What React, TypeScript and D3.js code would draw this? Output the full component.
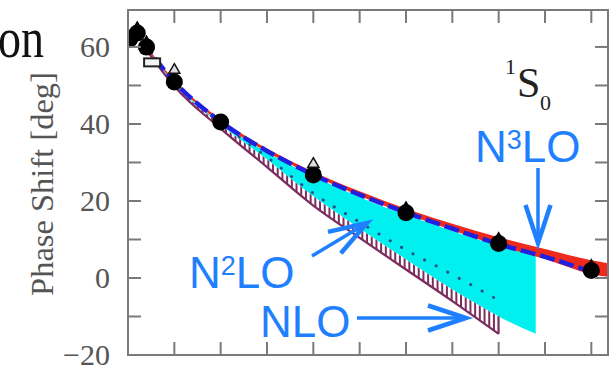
import React from "react";
import * as d3 from "d3";

// ---------- data ----------
const PWA_E = [1, 5, 10, 25, 50, 100, 150, 200, 250];
const PWA_CIRCLES = [62.07, 63.63, 59.96, 50.9, 40.54, 26.78, 16.94, 8.94, 1.96];
const TRI_E = [5, 10, 25, 100, 150, 200, 250];
const TRI_FILLED = [64.3, 60.6, 51.6, 27.4, 17.6, 9.6, 2.6];
const OPEN_TRI_E = [25, 100];
const OPEN_TRI = [54.0, 29.6];
const OPEN_SQ_E = [13];
const OPEN_SQ = [56.0];

const N3LO_E = [1, 5, 10, 25, 50, 75, 100, 125, 150, 175, 200, 225, 250, 259];
const N3LO_LO = [61.8, 63.3, 59.7, 50.8, 40.4, 32.7, 26.6, 21.3, 16.6, 12.4, 8.3, 4.9, 1.0, 0.3];
const N3LO_HI = [62.3, 63.8, 60.3, 51.4, 41.2, 33.6, 27.6, 22.5, 18.0, 14.1, 10.6, 7.5, 4.6, 3.8];

const DASHED_E = [1, 5, 10, 25, 50, 75, 100, 125, 150, 175, 200, 225, 250];
const DASHED = [62.0, 63.5, 60.0, 51.0, 40.6, 33.0, 26.8, 21.6, 17.0, 12.8, 8.8, 5.5, 1.6];

const N2LO_E = [10, 25, 50, 75, 100, 125, 150, 175, 200, 220];
const N2LO_HI = [59.8, 50.8, 40.3, 32.6, 26.4, 21.0, 16.4, 12.2, 8.3, 5.8];
const N2LO_LO = [59.4, 50.3, 39.8, 30.8, 21.2, 12.8, 4.8, -3.0, -10.0, -14.5];

const NLO_E = [10, 25, 50, 75, 100, 125, 150, 175, 200];
const NLO_HI = [59.4, 50.3, 39.8, 30.8, 21.2, 12.8, 4.8, -3.0, -10.0];
const NLO_LO = [59.2, 49.8, 38.8, 28.8, 18.8, 10.4, 2.2, -6.0, -14.5];

const DOTTED_E = [60, 75, 100, 125, 150, 175, 200];
const DOTTED = [36.6, 31.4, 22.0, 14.5, 7.3, 0.9, -5.8];

const Y_TICKS = [-20, -10, 0, 10, 20, 30, 40, 50, 60];
const Y_LABELS = [60, 40, 20, 0, -20];
const X_TICKS = [25, 50, 75, 100, 125, 150, 175, 200, 225, 250];

// ---------- layout ----------
const W = 616, H = 365;
const X0 = 128, X1 = 608, Y0 = 10, Y1 = 355;
const x = d3.scaleLinear().domain([0, 259]).range([X0, X1]);
const y = d3.scaleLinear().domain([-20, 69.6]).range([Y1, Y0]);

const band = (E: number[], lo: number[], hi: number[]) =>
  d3
    .area<number>()
    .x((_, i) => x(E[i]))
    .y0((_, i) => y(lo[i]))
    .y1((_, i) => y(hi[i]))
    .curve(d3.curveMonotoneX)(E) as string;

const line = (E: number[], v: number[]) =>
  d3
    .line<number>()
    .x((_, i) => x(E[i]))
    .y((_, i) => y(v[i]))
    .curve(d3.curveMonotoneX)(E) as string;

const BLUE = "#1f80ff";
const AXIS = "#7a7a7a";
const HATCH = "#7b2d5e";

function Arrow({ x1, y1, x2, y2 }: { x1: number; y1: number; x2: number; y2: number }) {
  const dx = x2 - x1, dy = y2 - y1;
  const len = Math.hypot(dx, dy);
  const ux = dx / len, uy = dy / len;
  const nx = -uy, ny = ux;
  const L = 38, Wd = 12.5;
  const b1 = [x2 - L * ux + Wd * nx, y2 - L * uy + Wd * ny];
  const b2 = [x2 - L * ux - Wd * nx, y2 - L * uy - Wd * ny];
  return (
    <g stroke={BLUE} fill="none">
      <line x1={x1} y1={y1} x2={x2 - 2 * ux} y2={y2 - 2 * uy} strokeWidth={3.5} />
      <path d={`M${b1[0]},${b1[1]} L${x2},${y2} L${b2[0]},${b2[1]}`} strokeWidth={4.5} strokeLinejoin="miter" strokeMiterlimit={10} />
    </g>
  );
}

function tri(cx: number, cy: number, s: number) {
  const h = (s * Math.sqrt(3)) / 2;
  return `M${cx},${cy - (2 * h) / 3} L${cx + s / 2},${cy + h / 3} L${cx - s / 2},${cy + h / 3} Z`;
}

export default function App() {
  const hatchXs = d3.range(x(25), x(200) + 0.1, 4.7);
  return (
    <svg width={W} height={H} style={{ position: "absolute", left: 0, top: 0, background: "#fff" }}
      fontFamily="'Liberation Serif', 'Times New Roman', serif">
      <defs>
        <clipPath id="plot">
          <rect x={X0} y={Y0} width={X1 - X0} height={Y1 - Y0} />
        </clipPath>
        <clipPath id="nloClip">
          <path d={band(NLO_E, NLO_LO, NLO_HI)} />
        </clipPath>
      </defs>

      {/* partial text at top-left */}
      <g transform="translate(44,57) scale(1,1.25)">
        <text x={0} y={0} textAnchor="end" fontSize={46} fill="#111">on</text>
      </g>

      {/* y-axis title */}
      <text transform="translate(53,184) rotate(-90)" textAnchor="middle" fontSize={32.5} fill="#555">
        Phase Shift [deg]
      </text>

      {/* y tick labels */}
      {Y_LABELS.map((v) => (
        <text key={v} x={110} y={y(v) + 10} textAnchor="end" fontSize={30} fill="#555">
          {v < 0 ? `\u2212${Math.abs(v)}` : v}
        </text>
      ))}

      <g clipPath="url(#plot)">
        <path d={band(N2LO_E, N2LO_LO, N2LO_HI)} fill="#00f0f0" />
        <path d={band(NLO_E, NLO_LO, NLO_HI)} fill="#fff" />
        <g clipPath="url(#nloClip)">
          {hatchXs.map((hx, i) => (
            <line key={i} x1={hx} x2={hx} y1={Y0} y2={Y1} stroke={HATCH} strokeWidth={2} />
          ))}
        </g>
        <path d={line(NLO_E, NLO_LO)} fill="none" stroke={HATCH} strokeWidth={2.2} />
        <line x1={x(200)} x2={x(200)} y1={y(NLO_LO[NLO_LO.length - 1])} y2={y(NLO_HI[NLO_HI.length - 1])}
          stroke={HATCH} strokeWidth={2} />
        <path d={line(DOTTED_E, DOTTED)} fill="none" stroke="#2d4f86" strokeWidth={3}
          strokeDasharray="0.1 13" strokeLinecap="round" />
        <path d={band(N3LO_E, N3LO_LO, N3LO_HI)} fill="#ee2a1c" />
        <path d={line(DASHED_E, DASHED)} fill="none" stroke="#2020e0" strokeWidth={4.5}
          strokeDasharray="15 5" />

        {OPEN_SQ_E.map((e, i) => (
          <rect key={"sq" + i} x={x(e) - 8} y={y(OPEN_SQ[i]) - 4} width={16} height={8}
            fill="#f4f4f4" stroke="#222" strokeWidth={2} />
        ))}
        {TRI_E.map((e, i) => (
          <path key={"t" + i} d={tri(x(e), y(TRI_FILLED[i]), 17)} fill="#000" />
        ))}
        {PWA_E.map((e, i) => (
          <circle key={"c" + i} cx={x(e)} cy={y(PWA_CIRCLES[i])} r={8.5} fill="#000" />
        ))}
        {OPEN_TRI_E.map((e, i) => (
          <path key={"ot" + i} d={tri(x(e), y(OPEN_TRI[i]), 11)} fill="#ddd" stroke="#111" strokeWidth={1.5} />
        ))}
      </g>

      <rect x={X0} y={Y0} width={X1 - X0} height={Y1 - Y0} fill="none" stroke={AXIS} strokeWidth={2} />
      {Y_TICKS.map((v) => (
        <g key={"yt" + v} stroke={AXIS} strokeWidth={2}>
          <line x1={X0} x2={X0 + 13} y1={y(v)} y2={y(v)} />
          <line x1={X1} x2={X1 - 13} y1={y(v)} y2={y(v)} />
        </g>
      ))}
      {X_TICKS.map((e) => (
        <g key={"xt" + e} stroke={AXIS} strokeWidth={2}>
          <line x1={x(e)} x2={x(e)} y1={Y0} y2={Y0 + 13} />
          <line x1={x(e)} x2={x(e)} y1={Y1} y2={Y1 - 13} />
        </g>
      ))}

      <g fill="#222">
        <text x={505} y={74} fontSize={22}>1</text>
        <text x={517} y={97} fontSize={42}>S</text>
        <text x={540} y={110} fontSize={22}>0</text>
      </g>

      <g fontFamily="'Liberation Sans', Arial, sans-serif" fill={BLUE} fontSize={44}>
        <text x={475} y={162}>N<tspan fontSize={27} dy={-13}>3</tspan><tspan dy={13}>LO</tspan></text>
        <text x={189} y={288}>N<tspan fontSize={27} dy={-13}>2</tspan><tspan dy={13}>LO</tspan></text>
        <text x={260} y={337}>NLO</text>
      </g>
      <Arrow x1={538} y1={168} x2={538} y2={243} />
      <Arrow x1={312} y1={256} x2={367} y2={223} />
      <Arrow x1={357} y1={318} x2={466} y2={318} />
    </svg>
  );
}
